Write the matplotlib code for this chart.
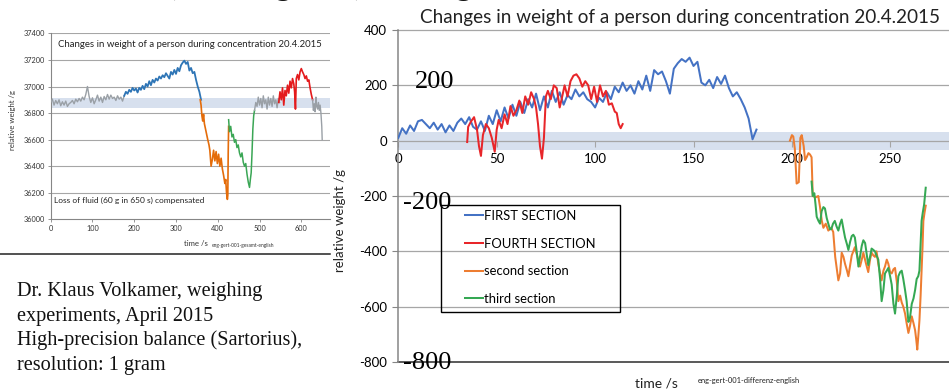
import numpy as np
import matplotlib
matplotlib.use("Agg")
import matplotlib.pyplot as plt
from matplotlib.lines import Line2D
from matplotlib.patches import Rectangle

plt.rcParams["font.family"] = ["Lato", "DejaVu Sans"]
plt.rcParams["axes.unicode_minus"] = False

W, H = 949, 392

# ── overview chart (absolute weight, g) ─────────────────────────────────────
gray1_t0, gray1_dt = 0, 4
gray1_w = [36880, 36905, 36860, 36895, 36870, 36900, 36855, 36885, 36860, 36890,
           36850, 36870, 36880, 36895, 36870, 36905, 36885, 36910, 36890, 36920,
           36900, 36940, 37000, 36925, 36880, 36915, 36870, 36900, 36935, 36890,
           36920, 36880, 36925, 36900, 36940, 36905, 36935, 36910, 36920, 36895,
           36930, 36905, 36920, 36890, 36930]
blue_t0, blue_dt = 176, 4
blue_w = [36930, 36960, 36945, 36975, 36960, 36990, 36970, 36985, 36955, 36990,
          36975, 37005, 36980, 37020, 37000, 37040, 37010, 37050, 37030, 37060,
          37045, 37075, 37060, 37085, 37070, 37100, 37080, 37060, 37110, 37090,
          37125, 37095, 37140, 37115, 37160, 37180, 37195, 37170, 37185, 37120,
          37140, 37100, 37110, 37050, 37000, 36960, 36900]
orange_t = [358, 360, 362, 364, 366, 368, 372, 376, 379, 381, 384, 387, 390, 393,
            396, 399, 402, 405, 408, 411, 414, 417, 419, 421, 423, 424, 425, 426]
orange_w = [36900, 36860, 36780, 36740, 36790, 36720, 36660, 36600, 36560, 36520,
            36400, 36450, 36520, 36440, 36510, 36420, 36490, 36400, 36460, 36380,
            36330, 36270, 36300, 36200, 36150, 36180, 36500, 36700]
green_t = [426, 428, 431, 434, 437, 440, 443, 446, 449, 452, 455, 458, 461, 464,
           467, 470, 473, 476, 478, 480, 482, 484, 486, 488]
green_w = [36750, 36660, 36700, 36620, 36640, 36580, 36600, 36540, 36560, 36500,
           36470, 36500, 36430, 36400, 36420, 36340, 36280, 36240, 36300, 36350,
           36500, 36680, 36780, 36820]
gray2_t0, gray2_dt = 488, 3
gray2_w = [36820, 36880, 36850, 36920, 36860, 36910, 36840, 36930, 36870, 36900,
           36830, 36920, 36860, 36910, 36850, 36930, 36870, 36900, 36840, 36910,
           36880]
red_t = [546, 549, 552, 555, 558, 561, 564, 567, 570, 573, 576, 579, 582, 584, 586,
         588, 591, 594, 597, 600, 603, 606, 609, 612, 615, 618, 621, 624, 627]
red_w = [36880, 36960, 36900, 36990, 36860, 36970, 36930, 37010, 36950, 37040,
         36990, 37060, 37020, 36960, 36830, 37060, 37090, 37050, 37110, 37135,
         37110, 37090, 37060, 37080, 37040, 37050, 36990, 36940, 36900]
gray3_t = [627, 629, 631, 633, 635, 637, 639, 641, 643, 645, 647, 649, 650]
gray3_w = [36900, 36820, 36870, 36810, 36920, 36850, 36830, 36880, 36820, 36860,
           36800, 36700, 36600]

# ── difference chart (relative weight, g) ──────────────────────────────────
first_t0, first_dt = 0, 2
first_v = [10, 45, 25, 55, 35, 70, 75, 60, 45, 65,
           40, 60, 30, 55, 35, 65, 80, 60, 85, 50,
           40, 70, 35, 90, 60, 110, 70, 120, 80, 130,
           90, 140, 100, 150, 120, 170, 110, 160, 120, 180,
           140, 175, 130, 165, 150, 185, 160, 175, 150, 140,
           120, 155, 140, 175, 150, 195, 175, 210, 180, 200,
           170, 215, 185, 235, 180, 255, 240, 250, 215, 170,
           260, 280, 295, 285, 300, 270, 285, 210, 200, 220,
           190, 230, 205, 235, 190, 160, 175, 150, 120, 80,
           5, 40]
fourth_t = [35, 35.5, 37, 38.5, 40, 41, 42, 43, 44.5, 46, 47.5, 49, 50, 51, 52.5,
            54, 55.5, 57, 58.5, 60, 61.5, 63, 64.5, 66, 67.5, 69, 70, 71, 72, 73,
            74, 75, 76, 77.5, 79, 80.5, 82, 83, 84.5, 86, 87.5, 89, 90.5, 92, 93.5,
            95, 96.5, 98, 99.5, 101, 102.5, 104, 105.5, 107, 108.5, 110, 111, 112,
            113, 114]
fourth_v = [-5, 50, 70, 85, 40, -20, -55, 20, 60, 45, 10, -40, 40, 75, 45,
            95, 60, 125, 90, 110, 145, 100, 160, 130, 175, 150, 120, 60, -20, -65,
            10, 160, 180, 150, 200, 190, 120, 150, 200, 160, 215, 235, 240, 225, 195,
            215, 200, 150, 195, 140, 200, 160, 180, 130, 135, 105, 100, 60,
            45, 60]
second_t = [199, 200, 200.7, 201.5, 202.4, 203.5, 204.3, 205, 206, 206.7, 207.5,
            208.4, 209.2, 210, 210.6, 212, 213.4, 214.3, 215.2, 216, 217.2, 218.5,
            220, 221, 222, 223.6, 224.5, 225.3, 226.2, 227, 228, 228.7, 229.6,
            230.4, 231.2, 232, 233.3, 234.6, 235.5, 236.3, 237.5, 238.8, 239.7,
            240.5, 241.4, 242.2, 243, 243.9, 244.8, 245.6, 246.5, 247.3, 248.2,
            249, 249.9, 250.7, 251.6, 252.4, 253.3, 254.1, 255, 255.8, 256.6,
            257.5, 258.3, 259.2, 260, 260.9, 261.8, 262.6, 263.2, 263.7, 264.3,
            264.8, 265.4, 265.9, 266.4, 266.8, 267.4, 268]
second_v = [0, 20, 15, -30, -155, -150, 10, 20, -20, -70, -60,
            -45, -50, -60, -200, -205, -200, -240, -290, -315, -300, -325,
            -315, -330, -420, -505, -480, -405, -420, -445, -470, -490, -450,
            -415, -400, -385, -420, -455, -430, -405, -440, -475, -430,
            -405, -415, -420, -400, -445, -480, -505, -470, -455, -430,
            -445, -475, -480, -465, -460, -510, -580, -560, -585, -600,
            -625, -660, -695, -670, -635, -660, -685, -720, -755, -700,
            -650, -560, -470, -380, -290, -260, -235]
third_t = [210, 210.6, 211.4, 212, 212.6, 213.5, 214.3, 215.1, 216, 216.8, 217.7,
           218.5, 219.3, 220, 220.9, 221.8, 222.7, 223.6, 224.5, 225.3, 226.2,
           227, 228, 228.7, 229.6, 230.4, 231.2, 232, 232.9, 233.8, 234.6, 235.5,
           236.3, 237.2, 238, 238.8, 239.7, 240.5, 241.4, 242.2, 243, 243.9,
           244.8, 245.6, 246.5, 247.3, 248.2, 249, 249.9, 250.7, 251.6, 252.4,
           253.3, 254.1, 255, 255.8, 256.6, 257.5, 258.3, 259.2, 260, 260.9,
           261.8, 262.6, 263.4, 264.2, 264.8, 265.3, 265.9, 266.5, 267.2, 267.6, 268]
third_v = [-148, -200, -190, -230, -275, -290, -300, -255, -240, -245, -280,
           -300, -320, -320, -300, -290, -310, -325, -300, -285, -320,
           -350, -375, -395, -365, -345, -340, -350, -400, -455, -420, -380,
           -360, -370, -410, -450, -420, -390, -395, -400, -415, -430,
           -500, -580, -540, -480, -470, -460, -490, -520, -590, -625,
           -560, -490, -475, -470, -500, -540, -580, -655, -640, -590,
           -570, -540, -500, -490, -470, -390, -290, -260, -230, -200, -170]

overview_yticks = list(range(36000, 37401, 200))
overview_xticks = list(range(0, 601, 100))
diff_yticks = list(range(-800, 401, 200))
diff_xticks = list(range(0, 251, 50))
legend_labels = ["FIRST SECTION", "FOURTH SECTION", "second section", "third section"]

GRID = "#A6A6A6"
AXIS = "#868686"
BAND = "#D7E0EE"


def fx(px):
    return px / W


def fy(py):
    return 1 - py / H


fig = plt.figure(figsize=(W / 100, H / 100), dpi=100)

# ── overview chart, upper left ─────────────────────────────────────────────
ai = fig.add_axes([fx(50.7), fy(219.3), 279.3 / W, 185.9 / H])
ai.set_xlim(0, 668.7)
ai.set_ylim(36000, 37400)
ai.axhspan(36835, 36910, color=BAND, lw=0, zorder=0)
for yv in overview_yticks[1:]:
    ai.axhline(yv, color=GRID, lw=0.8, zorder=1)
for s in ["top", "right"]:
    ai.spines[s].set_visible(False)
for s in ["left", "bottom"]:
    ai.spines[s].set_color(AXIS)
    ai.spines[s].set_linewidth(0.8)
ai.set_xticks(overview_xticks)
ai.set_yticks(overview_yticks)
ai.tick_params(labelsize=5.3, length=2, width=0.6, color=AXIS, pad=2, labelcolor="#333333")

lw_in = 1.0
ai.plot(gray1_t0 + gray1_dt * np.arange(len(gray1_w)), gray1_w, color="#9AA0A6", lw=lw_in, zorder=3)
ai.plot(blue_t0 + blue_dt * np.arange(len(blue_w)), blue_w, color="#2E75B6", lw=1.3, zorder=3)
ai.plot(orange_t, orange_w, color="#E46C0A", lw=1.2, zorder=3)
ai.plot(green_t, green_w, color="#3AA655", lw=1.1, zorder=3)
ai.plot(gray2_t0 + gray2_dt * np.arange(len(gray2_w)), gray2_w, color="#9AA0A6", lw=lw_in, zorder=3)
ai.plot(red_t, red_w, color="#E41A1C", lw=1.2, zorder=3)
ai.plot(gray3_t, gray3_w, color="#9AA0A6", lw=lw_in, zorder=3)

ai.text(0.5, 0.94, "Changes in weight of a person during concentration 20.4.2015",
        transform=ai.transAxes, ha="center", va="center", fontsize=6.9, color="#222222")
ai.text(0.013, 0.1, "Loss of fluid (60 g in 650 s) compensated",
        transform=ai.transAxes, ha="left", va="center", fontsize=6.0, color="#222222")
fig.text(fx(196), fy(243), "time /s", ha="center", va="center", fontsize=5.6, color="#333333")
fig.text(fx(212), fy(246), "eng-gert-001-gesamt-english", ha="left", va="center",
         fontsize=3.5, color="#333333")
fig.text(fx(13), fy(120), "relative weight /g", rotation=90, ha="center", va="center",
         fontsize=5.6, color="#333333")
fig.add_artist(Line2D([0, fx(330)], [fy(254), fy(254)], color="#222222", lw=1.1,
                      transform=fig.transFigure))

# ── difference chart, right ─────────────────────────────────────────────────
ax = fig.add_axes([fx(398.3), fy(362), 590.4 / W, 332 / H])
ax.set_xlim(0, 300)
ax.set_ylim(-800, 400)
ax.axhspan(-33, 30, color=BAND, lw=0, zorder=0)
for yv in [400, 200, -200, -400, -600]:
    ax.axhline(yv, color=GRID, lw=0.9, zorder=1, clip_on=False)
ax.axhline(-800, color="#595959", lw=1.4, zorder=1, clip_on=False)
for s in ["top", "right"]:
    ax.spines[s].set_visible(False)
ax.spines["bottom"].set_position(("data", 0))
ax.spines["bottom"].set_color(GRID)
ax.spines["bottom"].set_linewidth(0.9)
ax.spines["left"].set_color(AXIS)
ax.spines["left"].set_linewidth(1.1)
ax.set_xticks(diff_xticks)
ax.set_yticks(diff_yticks)
ax.tick_params(axis="x", labelsize=9.5, length=4, width=0.8, color=GRID, pad=5)
ax.tick_params(axis="y", labelsize=9.5, length=4, width=0.8, color=AXIS, pad=4)

lw = 1.45
h1, = ax.plot(first_t0 + first_dt * np.arange(len(first_v)), first_v, color="#4472C4", lw=lw, zorder=3)
h4, = ax.plot(fourth_t, fourth_v, color="#E8262A", lw=lw, zorder=4)
h2, = ax.plot(second_t, second_v, color="#ED7D31", lw=lw, zorder=3)
h3, = ax.plot(third_t, third_v, color="#35A853", lw=lw, zorder=3)

fig.text(fx(680.5), fy(17), "Changes in weight of a person during concentration 20.4.2015",
         ha="center", va="center", fontsize=13.6, color="#222222")
fig.text(fx(340), fy(221), "relative weight /g", rotation=90, ha="center", va="center",
         fontsize=9.5, color="#222222")
fig.text(fx(656), fy(383), "time /s", ha="center", va="center", fontsize=10, color="#222222")
fig.text(fx(698), fy(381), "eng-gert-001-differenz-english", ha="left", va="center",
         fontsize=5.4, color="#222222")

# legend in a plain box
fig.add_artist(Rectangle((fx(441), fy(312)), (620 - 441) / W, (312 - 205) / H,
                         transform=fig.transFigure, fill=False, ec="black", lw=1.0))
fig.legend([h1, h4, h2, h3], legend_labels, loc="upper left",
           bbox_to_anchor=(fx(465), fy(210)), frameon=False, fontsize=9.4,
           handlelength=1.35, handletextpad=0.1, labelspacing=1.2, borderpad=0,
           borderaxespad=0)

# large serif numbers pasted onto the slide
serif = ["Liberation Serif", "DejaVu Serif"]
for px, py, s in [(415, 82, "200"), (403, 203, "-200"), (403, 363, "-800")]:
    fig.text(fx(px), fy(py), s, ha="left", va="center", fontsize=19, family=serif)

# slide text, lower left
notes = ["Dr. Klaus Volkamer, weighing", "experiments, April 2015",
         "High-precision balance (Sartorius),", "resolution: 1 gram"]
for i, line in enumerate(notes):
    fig.text(fx(17), fy(296 + 24.7 * i), line, ha="left", va="baseline",
             fontsize=14.6, family=serif, color="#111111")

# slide heading above, only its descenders reach into the picture
fig.text(fx(168), fy(-5), "(mass, gram) during", ha="left", va="baseline",
         fontsize=26, color="#111111")

fig.savefig("out.png", dpi=100)
